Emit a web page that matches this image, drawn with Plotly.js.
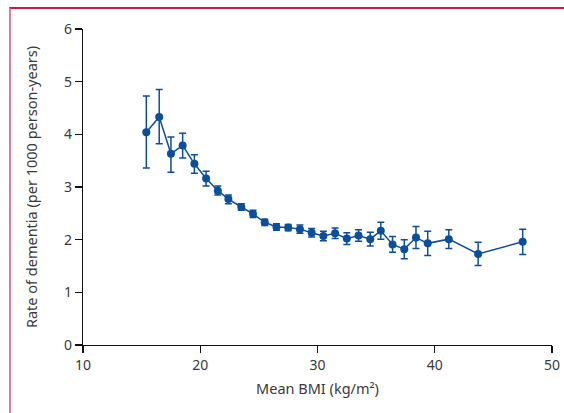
<!DOCTYPE html>
<html>
<head>
<meta charset="utf-8">
<script src="https://cdn.plot.ly/plotly-3.0.1.min.js"></script>
<style>
  html, body { margin: 0; padding: 0; background: #fff; }
  #wrap { position: relative; width: 564px; height: 413px; }
  #chart { width: 564px; height: 413px; }
  #frame { position: absolute; left: 9px; top: 7px; width: 555px; height: 406px;
           border-top: 2px solid #c8194b; border-left: 2px solid #dc7f99;
           box-sizing: border-box; pointer-events: none; }
</style>
</head>
<body>
<div id="wrap">
  <div id="chart"></div>
  <div id="frame"></div>
</div>
<script>
const meanBMI = [15.4, 16.5, 17.5, 18.5, 19.5, 20.5, 21.5, 22.4, 23.5, 24.5, 25.5, 26.5, 27.5, 28.5,
                 29.5, 30.5, 31.5, 32.5, 33.5, 34.5, 35.4, 36.4, 37.4, 38.4, 39.4, 41.2, 43.7, 47.5];
const rate    = [4.04, 4.33, 3.63, 3.79, 3.44, 3.16, 2.93, 2.77, 2.62, 2.49, 2.33, 2.24, 2.23, 2.20,
                 2.13, 2.07, 2.12, 2.02, 2.08, 2.01, 2.17, 1.91, 1.82, 2.04, 1.93, 2.01, 1.73, 1.96];
const ciLow   = [3.36, 3.82, 3.28, 3.55, 3.26, 3.02, 2.85, 2.68, 2.56, 2.42, 2.27, 2.18, 2.17, 2.12,
                 2.05, 1.98, 2.02, 1.91, 1.97, 1.88, 2.01, 1.76, 1.64, 1.83, 1.70, 1.83, 1.51, 1.72];
const ciHigh  = [4.73, 4.85, 3.95, 4.02, 3.61, 3.30, 3.02, 2.85, 2.68, 2.56, 2.39, 2.30, 2.29, 2.28,
                 2.21, 2.16, 2.22, 2.13, 2.19, 2.14, 2.33, 2.06, 2.00, 2.25, 2.16, 2.19, 1.95, 2.20];
const xTicks = [10, 20, 30, 40, 50];
const yTicks = [0, 1, 2, 3, 4, 5, 6];

const blue = '#0b4f9c';
const textCol = '#3a3a3a';
const fontFam = 'Noto Sans, sans-serif';

const trace = {
  x: meanBMI,
  y: rate,
  type: 'scatter',
  mode: 'lines+markers',
  line: { color: blue, width: 1.5 },
  marker: { color: blue, size: 8 },
  error_y: {
    type: 'data',
    symmetric: false,
    array: ciHigh.map((h, i) => h - rate[i]),
    arrayminus: rate.map((v, i) => v - ciLow[i]),
    color: blue,
    thickness: 1.5,
    width: 3.5
  },
  hoverinfo: 'x+y'
};

const axisCommon = {
  showgrid: false,
  zeroline: false,
  showline: true,
  linecolor: '#111',
  linewidth: 1.3,
  ticks: 'outside',
  ticklen: 7,
  tickwidth: 1.3,
  tickcolor: '#111',
  tickfont: { family: fontFam, size: 14, color: textCol },
  fixedrange: true
};

const layout = {
  width: 564,
  height: 413,
  margin: { l: 83, r: 12, t: 29, b: 68 },
  paper_bgcolor: '#fff',
  plot_bgcolor: '#fff',
  showlegend: false,
  font: { family: fontFam, color: textCol },
  xaxis: Object.assign({}, axisCommon, {
    range: [10, 50],
    tickmode: 'array',
    tickvals: xTicks,
    ticktext: xTicks.map(String),
    title: { text: 'Mean BMI (kg/m²)', font: { family: fontFam, size: 14.5, color: textCol }, standoff: 10 }
  }),
  yaxis: Object.assign({}, axisCommon, {
    range: [0, 6],
    tickmode: 'array',
    tickvals: yTicks,
    ticktext: yTicks.map(String),
    title: { text: 'Rate of dementia (per 1000 person-years)', font: { family: fontFam, size: 14.5, color: textCol }, standoff: 22 }
  })
};

Plotly.newPlot('chart', [trace], layout, { displayModeBar: false, staticPlot: true });
</script>
</body>
</html>
